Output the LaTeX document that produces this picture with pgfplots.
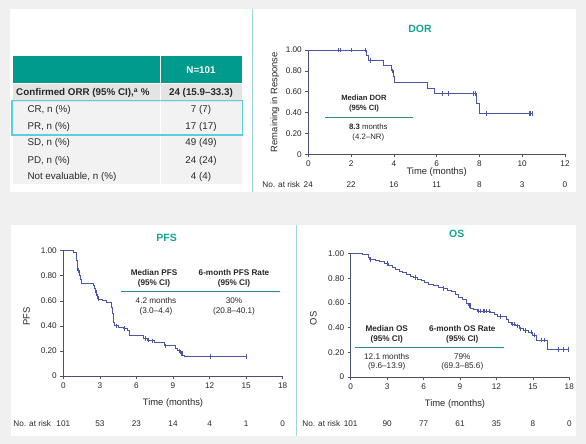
\documentclass[border=0pt]{standalone}
\usepackage{fontspec}
\setmainfont{Liberation Sans}
\usepackage{pgfplots}
\pgfplotsset{compat=1.18}
\definecolor{bggray}{RGB}{240,240,240}
\definecolor{headteal}{RGB}{0,155,140}
\definecolor{titleteal}{RGB}{20,165,150}
\definecolor{legline}{RGB}{45,145,115}
\definecolor{curve}{RGB}{75,85,170}
\definecolor{axiscol}{RGB}{75,80,110}
\definecolor{txt}{RGB}{40,40,40}
\definecolor{cyanbox}{RGB}{90,205,225}
\definecolor{divider}{RGB}{160,215,222}
\definecolor{rowgray}{RGB}{242,242,242}
\definecolor{rowdark}{RGB}{228,228,228}

\pgfplotsset{
  km/.style={
    scale only axis, anchor=south west, clip=false,
    axis lines=left, axis line style={-, draw=axiscol, line width=0.8pt},
    tick align=outside, major tick length=3pt,
    tick style={draw=axiscol, line width=0.6pt},
    ymin=0, ymax=1, ytick={0,0.2,0.4,0.6,0.8,1},
    yticklabels={0,0.20,0.40,0.60,0.80,1.00},
    /pgf/number format/assume math mode=true,
    ticklabel style={font=\fontsize{8.2}{9}\selectfont, text=txt},
    label style={font=\fontsize{9.4}{11}\selectfont, text=txt},
  },
  kmcurve/.style={const plot, draw=curve, line width=0.9pt, mark=none},
  kmcens/.style={only marks, mark=|, mark size=2.3pt, mark options={draw=curve, line width=0.6pt}},
}

\begin{document}
\begin{tikzpicture}[font=\fontsize{8}{10}\selectfont, text=txt]
\path[use as bounding box, fill=bggray] (0pt,0pt) rectangle (586pt,-444pt);
% cards
\fill[white] (10pt,-9pt) rectangle (576pt,-192pt);
\fill[white] (11pt,-225pt) rectangle (576pt,-436pt);
\draw[divider, line width=0.8pt] (252pt,-9pt) -- (252pt,-192pt);
\draw[divider, line width=0.8pt] (296pt,-225pt) -- (296pt,-436pt);

% ---------------- table ----------------
\fill[headteal] (12.7pt,-55.7pt) rectangle (241.7pt,-83.3pt);
\fill[rowdark] (12.7pt,-84pt) rectangle (241.7pt,-101.7pt);
\fill[rowgray] (12.7pt,-101.7pt) rectangle (241.7pt,-184.3pt);
\draw[white, line width=1pt] (160.3pt,-55.7pt) -- (160.3pt,-184.3pt);
\begin{scope}[font=\fontsize{9.8}{11}\selectfont]
\node[text=white, font=\fontsize{9.8}{11}\selectfont\bfseries] at (201pt,-70pt) {N=101};
\node[anchor=west, font=\fontsize{9.8}{11}\selectfont\bfseries] at (12.7pt,-93.3pt) {Confirmed ORR (95\% CI),\textsuperscript{a} \%};
\node[font=\fontsize{9.8}{11}\selectfont\bfseries] at (201pt,-93.3pt) {24 (15.9--33.3)};
\node[anchor=west] at (24pt,-110pt) {CR, n (\%)};
\node at (201pt,-110pt) {7 (7)};
\node[anchor=west] at (24pt,-126.7pt) {PR, n (\%)};
\node at (201pt,-126.7pt) {17 (17)};
\node[anchor=west] at (24pt,-143.3pt) {SD, n (\%)};
\node at (201pt,-143.3pt) {49 (49)};
\node[anchor=west] at (24pt,-160.7pt) {PD, n (\%)};
\node at (201pt,-160.7pt) {24 (24)};
\node[anchor=west] at (24pt,-176.7pt) {Not evaluable, n (\%)};
\node at (201pt,-176.7pt) {4 (4)};
\end{scope}
\draw[cyanbox, line width=1.2pt] (12pt,-100.7pt) rectangle (242.7pt,-135pt);

% ---------------- DOR ----------------
\node[font=\fontsize{10.5}{12}\selectfont\bfseries, text=titleteal] at (420pt,-29pt) {DOR};
\begin{axis}[km, at={(308.3pt,-154.3pt)}, width=256.7pt, height=104.3pt,
  xmin=0, xmax=12, xtick={0,2,...,12},
  xlabel={Time (months)}, ylabel={Remaining in Response},
  xlabel style={at={(axis description cs:0.5,-0.1726)}, anchor=center},
  ylabel style={at={(axis description cs:-0.1297,0.5)}, anchor=center, rotate=0}]
\addplot[kmcurve] coordinates {(0,1) (2.72,0.95) (2.82,0.90) (3.5,0.85) (3.9,0.80) (4.0,0.75) (4.05,0.69) (5.58,0.635) (5.88,0.585) (7.87,0.49) (8.02,0.39) (10.48,0.39)};
\addplot[kmcens] coordinates {(1.40,1) (1.51,1) (2.02,1) (2.65,1) (2.91,0.90) (3.92,0.80) (6.28,0.585) (6.54,0.585) (7.71,0.585) (7.79,0.585) (8.33,0.39) (10.31,0.39) (10.39,0.39) (10.48,0.39)};
\foreach \xx/\nn in {0/24,2/22,4/16,6/11,8/8,10/3,12/0}{
  \edef\tmp{\noexpand\node[yshift=-30.7pt, font=\noexpand\fontsize{8.2}{10}\noexpand\selectfont] at (axis cs:\xx,0) {\nn};}\tmp
}
\end{axis}
\node[anchor=west, font=\fontsize{8.2}{10}\selectfont] at (258.9pt,-185pt) {No. at risk};
\node[align=center, font=\fontsize{7.6}{10}\selectfont\bfseries] at (364pt,-104pt) {Median DOR\\(95\% CI)};
\draw[legline, line width=1.2pt] (325pt,-117.3pt) -- (412.7pt,-117.3pt);
\node[align=center, font=\fontsize{7.8}{9.7}\selectfont] at (368.3pt,-132.2pt) {\textbf{8.3} months\\(4.2--NR)};

% ---------------- PFS ----------------
\node[font=\fontsize{10.5}{12}\selectfont\bfseries, text=titleteal] at (166.7pt,-238.3pt) {PFS};
\begin{axis}[km, at={(63.3pt,-376pt)}, width=219.4pt, height=125.3pt,
  xmin=0, xmax=18, xtick={0,3,...,18},
  xlabel={Time (months)}, ylabel={PFS},
  xlabel style={at={(axis description cs:0.5,-0.218)}, anchor=center},
  ylabel style={at={(axis description cs:-0.1668,0.473)}, anchor=center}]
\addplot[kmcurve] coordinates {(0,1) (0.82,0.99) (1.04,0.96) (1.1,0.92) (1.15,0.88) (1.2,0.84) (1.3,0.80) (1.38,0.77) (1.45,0.74) (2.46,0.72) (2.55,0.70) (2.65,0.67) (2.72,0.64) (2.8,0.62) (2.9,0.61) (3.2,0.60) (3.5,0.59) (3.9,0.585) (3.96,0.55) (4.02,0.50) (4.08,0.46) (4.14,0.43) (4.2,0.40) (4.5,0.39) (4.9,0.38) (5.3,0.365) (5.46,0.32) (6.56,0.30) (6.9,0.287) (7.2,0.28) (7.5,0.266) (8.3,0.24) (9.2,0.22) (9.4,0.20) (9.6,0.18) (9.8,0.165) (9.9,0.154) (15.0,0.154)};
\addplot[kmcens] coordinates {(1.25,0.84) (2.68,0.67) (2.76,0.64) (2.85,0.62) (4.35,0.40) (5.0,0.38) (6.7,0.30) (6.95,0.287) (7.3,0.28) (8.4,0.24) (9.55,0.20) (9.65,0.18) (9.75,0.18) (12.1,0.154) (15.0,0.154)};
\foreach \xx/\nn in {0/101,3/53,6/23,9/14,12/4,15/1,18/0}{
  \edef\tmp{\noexpand\node[yshift=-47.7pt, font=\noexpand\fontsize{8.2}{10}\noexpand\selectfont] at (axis cs:\xx,0) {\nn};}\tmp
}
\end{axis}
\node[anchor=west, font=\fontsize{8.2}{10}\selectfont] at (9.9pt,-423.7pt) {No. at risk};
\node[align=center, font=\fontsize{8.2}{10}\selectfont\bfseries] at (154pt,-278.3pt) {Median PFS\\(95\% CI)};
\node[align=center, font=\fontsize{8.2}{10}\selectfont\bfseries] at (234pt,-278.3pt) {6-month PFS Rate\\(95\% CI)};
\draw[legline, line width=1.2pt] (120.7pt,-291.7pt) -- (280pt,-291.7pt);
\node[align=center, font=\fontsize{8.2}{9.7}\selectfont] at (156pt,-306.2pt) {4.2 months\\(3.0--4.4)};
\node[align=center, font=\fontsize{8.2}{9.7}\selectfont] at (234pt,-306.2pt) {30\%\\(20.8--40.1)};

% ---------------- OS ----------------
\node[font=\fontsize{10.5}{12}\selectfont\bfseries, text=titleteal] at (456.7pt,-234pt) {OS};
\begin{axis}[km, at={(350.7pt,-377pt)}, width=218.6pt, height=123.3pt,
  xmin=0, xmax=18, xtick={0,3,...,18},
  xlabel={Time (months)}, ylabel={OS},
  xlabel style={at={(axis description cs:0.477,-0.221)}, anchor=center},
  ylabel style={at={(axis description cs:-0.171,0.476)}, anchor=center}]
\addplot[kmcurve] coordinates {(0,1) (1.0,0.99) (1.45,0.97) (1.55,0.955) (2.0,0.945) (2.4,0.935) (2.8,0.92) (3.1,0.905) (3.4,0.89) (3.7,0.875) (4.0,0.86) (4.3,0.845) (4.6,0.83) (4.9,0.815) (5.2,0.805) (5.5,0.795) (5.8,0.78) (6.1,0.765) (6.4,0.75) (6.8,0.74) (7.2,0.73) (7.6,0.72) (8.0,0.705) (8.3,0.69) (8.6,0.67) (8.9,0.645) (9.2,0.625) (9.5,0.60) (9.7,0.58) (9.9,0.56) (10.1,0.545) (10.4,0.535) (11.5,0.52) (11.8,0.505) (12.1,0.49) (12.8,0.465) (13.0,0.445) (13.2,0.43) (13.6,0.415) (13.9,0.39) (14.2,0.375) (14.6,0.365) (15.0,0.34) (15.3,0.30) (16.2,0.225) (18.0,0.225)};
\addplot[kmcens] coordinates {(1.6,0.955) (1.65,0.955) (3.0,0.92) (5.3,0.805) (7.6,0.72) (9.75,0.58) (9.85,0.58) (10.5,0.535) (10.7,0.535) (10.9,0.535) (11.0,0.535) (11.2,0.535) (11.4,0.535) (12.3,0.49) (13.3,0.43) (13.5,0.43) (13.7,0.415) (14.0,0.39) (14.4,0.375) (14.9,0.365) (15.1,0.34) (15.7,0.30) (15.9,0.30) (17.1,0.225) (17.5,0.225) (17.9,0.225)};
\foreach \xx/\nn in {0/101,3/90,6/77,9/61,12/35,15/8,18/0}{
  \edef\tmp{\noexpand\node[yshift=-46.3pt, font=\noexpand\fontsize{8.2}{10}\noexpand\selectfont] at (axis cs:\xx,0) {\nn};}\tmp
}
\end{axis}
\node[anchor=west, font=\fontsize{8.2}{10}\selectfont] at (298.9pt,-423.3pt) {No. at risk};
\node[align=center, font=\fontsize{8.2}{10}\selectfont\bfseries] at (386.7pt,-334pt) {Median OS\\(95\% CI)};
\node[align=center, font=\fontsize{8.2}{10}\selectfont\bfseries] at (462.3pt,-334pt) {6-month OS Rate\\(95\% CI)};
\draw[legline, line width=1.2pt] (355pt,-347.3pt) -- (504pt,-347.3pt);
\node[align=center, font=\fontsize{8.2}{9.7}\selectfont] at (386.7pt,-361.9pt) {12.1 months\\(9.6--13.9)};
\node[align=center, font=\fontsize{8.2}{9.7}\selectfont] at (462.3pt,-361.9pt) {79\%\\(69.3--85.6)};
\end{tikzpicture}
\end{document}
